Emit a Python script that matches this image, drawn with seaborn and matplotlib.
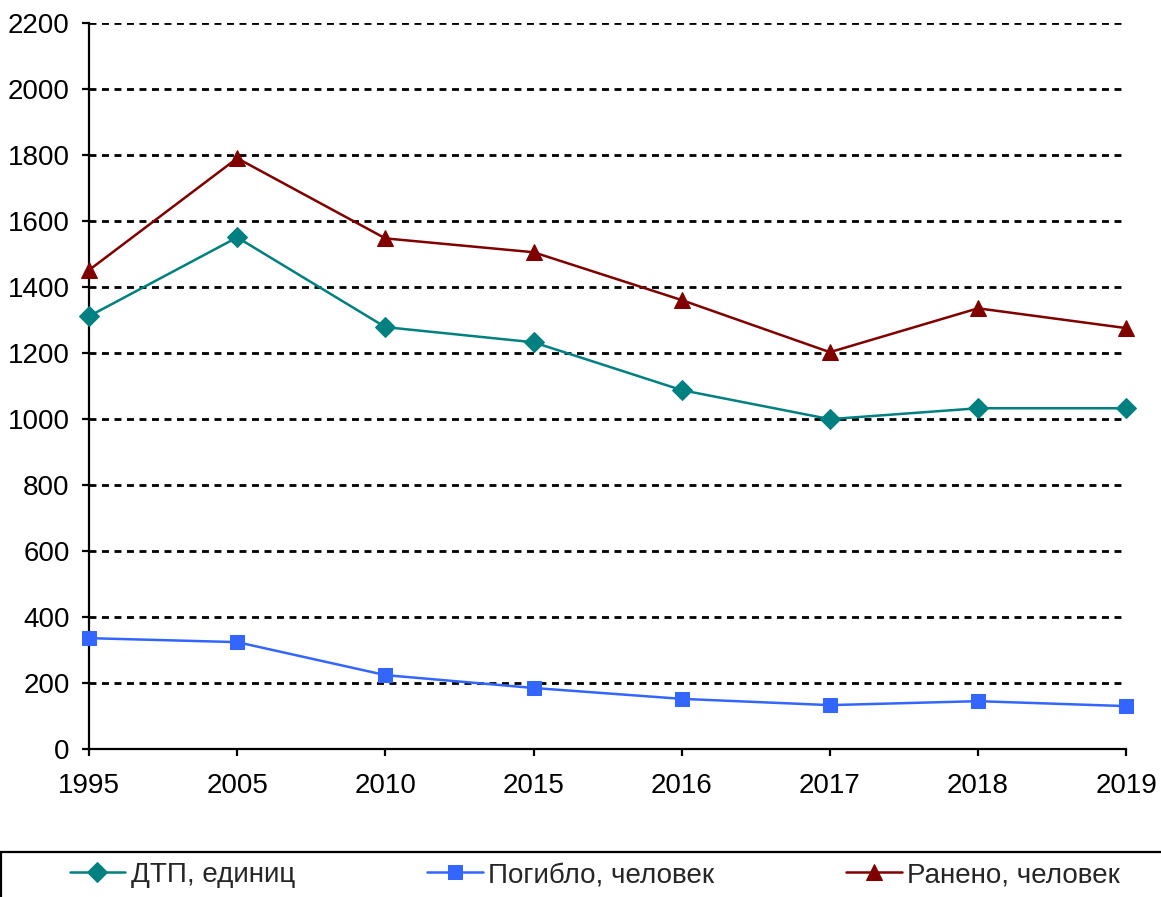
"""ДТП, погибшие и раненые по годам."""
import matplotlib
matplotlib.use("Agg")
import matplotlib.pyplot as plt
import pandas as pd
import seaborn as sns
from matplotlib.patches import Rectangle

years = ["1995", "2005", "2010", "2015", "2016", "2017", "2018", "2019"]
dtp = [1312, 1551, 1279, 1233, 1088, 1000, 1033, 1033]
killed = [336, 324, 224, 185, 152, 133, 145, 130]
injured = [1452, 1791, 1548, 1506, 1361, 1203, 1336, 1276]

series_names = ["ДТП, единиц", "Погибло, человек", "Ранено, человек"]
colors = {"ДТП, единиц": "#008080", "Погибло, человек": "#3366FF",
          "Ранено, человек": "#800000"}
markers = {"ДТП, единиц": "D", "Погибло, человек": "s", "Ранено, человек": "^"}
sizes = {"ДТП, единиц": 10.5, "Погибло, человек": 10, "Ранено, человек": 12}

sns.set_style("ticks")
plt.rcParams["font.family"] = ["Liberation Sans", "DejaVu Sans"]

df = pd.concat([
    pd.DataFrame({"year": years, "value": vals, "series": name})
    for name, vals in zip(series_names, [dtp, killed, injured])
])

fig = plt.figure(figsize=(11.61, 8.97), dpi=100)
ax = fig.add_axes([0.0767, 0.165, 0.8933, 0.809])

for name in series_names:
    sub = df[df["series"] == name]
    sns.lineplot(data=sub, x="year", y="value", color=colors[name],
                 marker=markers[name], markersize=sizes[name],
                 markeredgecolor=colors[name], linewidth=1.8,
                 sort=False, label=name, ax=ax, legend=False, clip_on=False,
                 zorder=5)

ax.set_xlim(0, len(years) - 1)
ax.set_ylim(0, 2200)
ax.set_yticks(range(0, 2201, 200))
ax.set_xlabel("")
ax.set_ylabel("")
ax.tick_params(axis="both", labelsize=20, length=5, width=1.6, color="black",
               labelcolor="black")
ax.tick_params(axis="y", pad=9)
ax.tick_params(axis="x", pad=12)
ax.yaxis.grid(True, linestyle=(0, (2.5, 2)), color="black", linewidth=2)
ax.set_axisbelow(True)
for side in ["top", "right"]:
    ax.spines[side].set_visible(False)
for side in ["left", "bottom"]:
    ax.spines[side].set_linewidth(1.6)
    ax.spines[side].set_color("black")

# legend box along the bottom edge, running off the figure
fig.patches.append(Rectangle((0.0008, -0.1), 1.2, 0.1 + 1 - 852 / 897,
                             transform=fig.transFigure, fill=False,
                             edgecolor="black", linewidth=1.6))
handles, labels = ax.get_legend_handles_labels()
leg = fig.legend(handles, labels, loc="center left", ncol=3, mode="expand",
                 bbox_to_anchor=(0.06, 1 - 875 / 897, 0.905, 0), fontsize=20,
                 frameon=False, borderaxespad=0, borderpad=0,
                 handlelength=2.0, handletextpad=0.2)

fig.savefig("out.png", dpi=100)
